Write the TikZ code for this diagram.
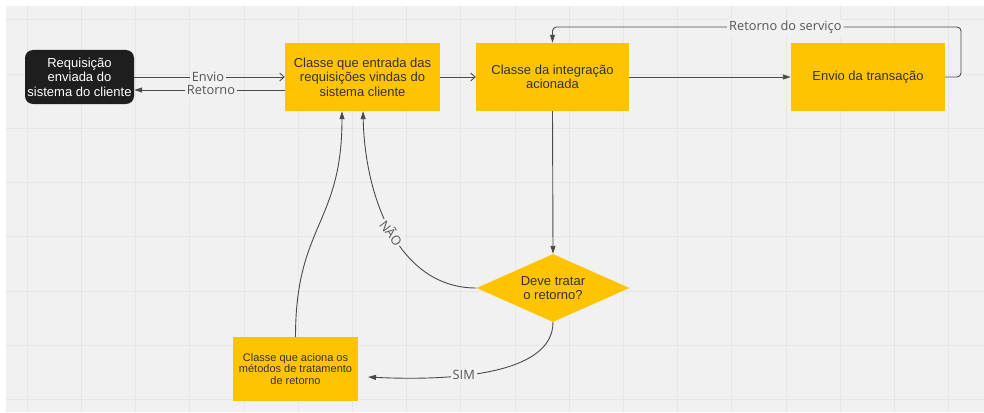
\documentclass[tikz,border=0pt]{standalone}
\usepackage{fontspec}
\setmainfont{Liberation Sans}
\newfontfamily\lblfont{Open Sans}
\usetikzlibrary{arrows.meta,shapes.geometric}
\definecolor{bg}{HTML}{F1F1F1}
\definecolor{gridc}{HTML}{E6E6E6}
\definecolor{ybox}{HTML}{FFC400}
\definecolor{dark}{HTML}{1E1E1E}
\definecolor{linec}{HTML}{4A4A4A}
\definecolor{lblc}{HTML}{555555}
\definecolor{txtc}{HTML}{333333}
\tikzset{
  ybx/.style={fill=ybox, text=txtc, align=center, inner sep=0pt,
    font=\fontsize{13}{14.5}\selectfont},
  blk/.style={fill=dark, text=white, align=center, inner sep=0pt, rounded corners=8pt,
    font=\fontsize{13}{14.5}\selectfont, minimum width=109pt, minimum height=54pt},
  conn/.style={draw=linec, line width=0.9pt},
  fa/.style={conn, -{Triangle[length=8pt,width=5pt]}},
  oa/.style={conn, -{Straight Barb[length=4.5pt,width=8pt]}},
  lbl/.style={fill=bg, text=lblc, inner sep=2pt, font=\lblfont\fontsize{12.8}{14}\selectfont},
}
\begin{document}
\begin{tikzpicture}[x=1pt,y=-1pt]
\useasboundingbox (0,0) rectangle (984,412);
\fill[white] (0,0) rectangle (984,412);
\fill[bg] (6,6) rectangle (984,412);
\foreach \i in {0,...,17} {\draw[gridc, line width=1pt] ({27.2+54.2*\i},6) -- ({27.2+54.2*\i},412);}
\foreach \j in {0,...,7} {\draw[gridc, line width=1pt] (6,{20+54.2*\j}) -- (984,{20+54.2*\j});}

\node[blk] (req) at (79.5,77) {Requisição\\enviada do\\sistema do cliente};
\node[ybx, minimum width=155pt, minimum height=68pt] (ent) at (362.5,77) {Classe que entrada das\\requisições vindas do\\sistema cliente};
\node[ybx, minimum width=153pt, minimum height=68pt] (int) at (552.5,77) {Classe da integração\\acionada};
\node[ybx, minimum width=154pt, minimum height=68pt] (env) at (868,77) {Envio da transação};
\node[ybx, shape=diamond, shape aspect=2.25, minimum width=153pt, minimum height=68pt] (dia) at (553,288) {Deve tratar\\o retorno?};
\node[ybx, minimum width=125pt, minimum height=64pt, font=\fontsize{11}{11.5}\selectfont] (bot) at (295.5,369) {Classe que aciona os\\métodos de tratamento\\de retorno};

\coordinate (rs) at (961,27);
\coordinate (simend) at (368,377);

\draw[oa] (req.east) -- node[lbl, pos=0.49] {Envio} (ent.west);
\draw[fa] ([yshift=-13pt]ent.west) -- node[lbl, pos=0.49] {Retorno} ([yshift=-13pt]req.east);
\draw[oa] (ent.east) -- (int.west);
\draw[fa] (int.east) -- (env.west);
\draw[fa, rounded corners=4pt] (env.east) -| (rs) -| node[lbl, pos=0.215] {Retorno do serviço} (int.north);
\draw[fa] (int.south) -- (dia.north);
\draw[fa] (dia.west) .. controls +(-77,0) and +(2,88) .. node[lbl, pos=0.5, rotate=-52, inner sep=1.5pt] {NÃO} ([xshift=0.5pt]ent.south);
\draw[fa] (dia.south) .. controls +(0,53) and +(82,4) .. node[lbl, pos=0.62] {SIM} (simend);
\draw[fa] (bot.north) .. controls +(0,-112) and +(0,113) .. ([xshift=-20.5pt]ent.south);
\end{tikzpicture}
\end{document}
